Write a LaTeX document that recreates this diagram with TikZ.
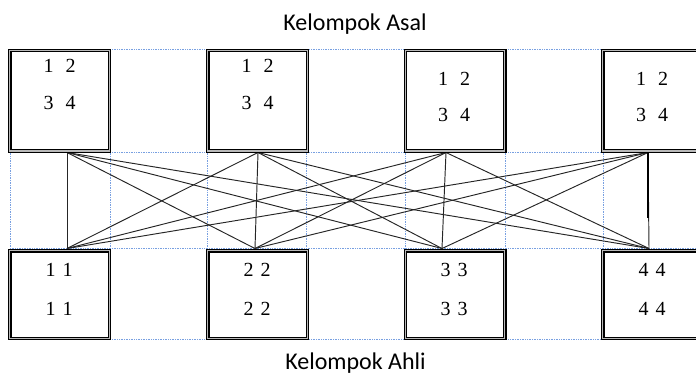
\documentclass[tikz,border=0pt]{standalone}
\usepackage{fontspec}
\setmainfont{Liberation Serif}
\newfontfamily\titlefont{Carlito}
\definecolor{gridblue}{RGB}{120,160,225}
\begin{document}
\begin{tikzpicture}[x=1pt,y=-1pt,
  gridline/.style={draw=gridblue, densely dotted, line width=0.7pt},
  dbox/.style={rectangle, draw=black, line width=1.1pt, double=gray!55,
    double distance=1.3pt, fill=white, inner sep=0pt, minimum width=99.5pt},
  topbox/.style={dbox, minimum height=100.2pt},
  botbox/.style={dbox, minimum height=87.5pt},
  digits/.style={font=\fontsize{20}{24}\selectfont, anchor=base, inner sep=0pt},
  link/.style={draw=black!85, line width=0.95pt},
  heading/.style={font=\titlefont\fontsize{24}{28}\selectfont, anchor=base, inner sep=0pt}]
\useasboundingbox (0,0) rectangle (696,376);
\clip (0,0) rectangle (696,376);

% dotted table grid behind everything
\foreach \yy in {49,152,248,339} \draw[gridline] (10,\yy) -- (700,\yy);
\foreach \xx in {10,110,207,306,405,505,603,700} \draw[gridline] (\xx,49) -- (\xx,339);

% attachment points of the connectors
\coordinate (t1) at (67,152.5);
\coordinate (t2) at (258,152.5);
\coordinate (t3) at (446,152.5);
\coordinate (t4) at (648,152.5);
\coordinate (b1) at (67,248.5);
\coordinate (b2) at (255,248.5);
\coordinate (b3) at (442,248.5);
\coordinate (b4) at (649,248.5);
\coordinate (m4) at (648,218);

% every home group sends one member to every expert group
\foreach \i in {1,...,4}
  \foreach \j in {1,...,4}
    \draw[link] (t\i) -- (b\j);
\draw[line width=2.2pt] (t4) -- (m4);

% home groups
\node[topbox] (A1) at (59.5,100.8) {};
\node[topbox] (A2) at (257.5,100.8) {};
\node[topbox] (A3) at (455,100.8) {};
\node[topbox] (A4) at (652.5,100.8) {};
% expert groups
\node[botbox] (B1) at (59.5,294.5) {};
\node[botbox] (B2) at (257.5,294.5) {};
\node[botbox] (B3) at (455,294.5) {};
\node[botbox] (B4) at (652.5,294.5) {};

% members
\node[digits] (a1r1) at (59.5,72) {1\hspace{12pt}2};
\node[digits] (a1r2) at (59.5,109) {3\hspace{12pt}4};
\node[digits] (a2r1) at (257.5,72) {1\hspace{12pt}2};
\node[digits] (a2r2) at (257.5,109) {3\hspace{12pt}4};
\node[digits] (a3r1) at (454,85) {1\hspace{12pt}2};
\node[digits] (a3r2) at (454,121.5) {3\hspace{12pt}4};
\node[digits] (a4r1) at (652,85) {1\hspace{12pt}2};
\node[digits] (a4r2) at (652,121.5) {3\hspace{12pt}4};

\node[digits] (b1r1) at (59,276.5) {1\hspace{7pt}1};
\node[digits] (b1r2) at (59,315) {1\hspace{7pt}1};
\node[digits] (b2r1) at (257,276.5) {2\hspace{7pt}2};
\node[digits] (b2r2) at (257,315) {2\hspace{7pt}2};
\node[digits] (b3r1) at (454,276.5) {3\hspace{7pt}3};
\node[digits] (b3r2) at (454,315) {3\hspace{7pt}3};
\node[digits] (b4r1) at (652,276.5) {4\hspace{7pt}4};
\node[digits] (b4r2) at (652,315) {4\hspace{7pt}4};

% headings
\node[heading] (home) at (355,30) {Kelompok Asal};
\node[heading] (expert) at (355.5,369.5) {Kelompok Ahli};
\end{tikzpicture}
\end{document}
